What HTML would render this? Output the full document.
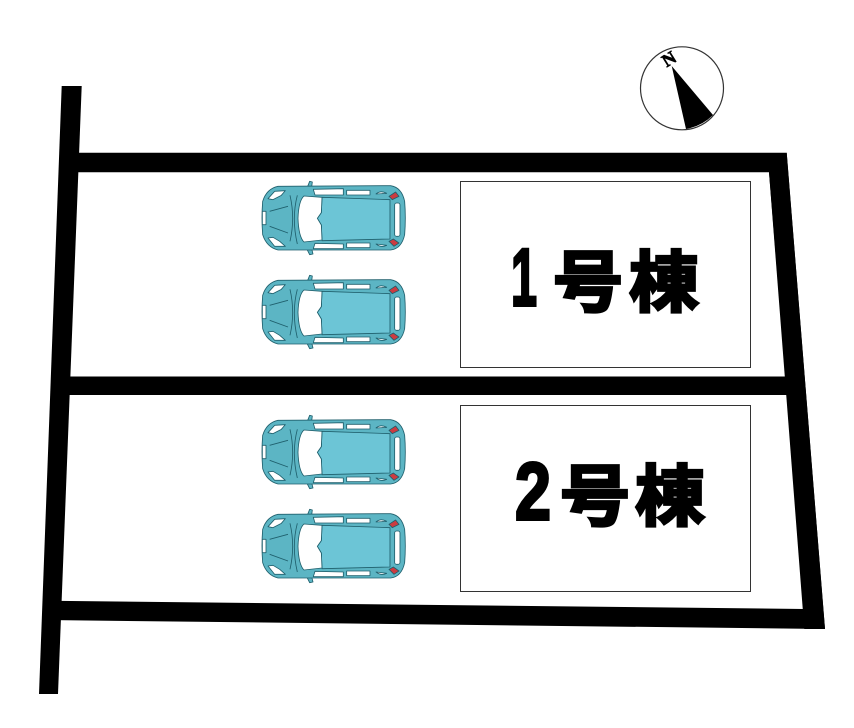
<!DOCTYPE html>
<html><head><meta charset="utf-8"><style>
html,body{margin:0;padding:0;background:#fff}
svg{display:block}
text{font-family:"Liberation Sans","Noto Sans CJK JP",sans-serif;font-weight:700}
</style></head><body>
<svg width="854" height="728" viewBox="0 0 854 728" xmlns="http://www.w3.org/2000/svg">
<defs>
<g id="car" transform="scale(0.3333)" stroke="#1f5f6c" stroke-width="2.5" stroke-linejoin="round">
<path d="M169 59L179 34L187 36L184 59Z M164 224L179 254L189 252L182 224Z" fill="#5cb5c4"/>
<path d="M84 49L422 47Q455 52 464 94Q468 144 464 194Q455 236 422 240L84 240Q50 232 38 194Q34 144 38 94Q50 56 84 49Z" fill="#5cb5c4"/>
<path d="M190 58L280 56L280 75L195 75Z M290 61L360 61L360 75L290 75Z M378 72Q392 60 410 70Z" fill="#fff"/>
<path d="M190 236L280 236L280 222L195 220Z M290 233L360 233L360 219L290 219Z M378 222Q392 234 410 226Z" fill="#fff"/>
<path d="M216 82L420 89L420 207L216 212L214 165L202 145L214 128Z" fill="#6cc5d6"/>
<path d="M162 78L216 82L214 128L202 145L214 165L216 210L162 216Q146 200 144 145Q146 92 162 78Z" fill="#fff"/>
<path d="M142 76Q124 145 142 222" fill="none"/>
<path d="M59 124L114 109M59 169L114 189M120 76Q136 145 120 214" fill="none"/>
<path d="M54 86L74 64L106 62L94 76L69 89Z M54 204L74 229L106 229L89 214L69 202Z" fill="#fff"/>
<rect x="37" y="124" width="11" height="40" fill="#fff"/>
<rect x="434" y="99" width="16" height="100" rx="6" fill="#fff"/>
<path d="M417 79L437 66L447 79L427 89Z M417 214L430 207L447 219L432 229Z" fill="#cc3b40"/>
</g>
</defs>
<g fill="#000">
<path d="M61.7 86H81.7L58 694H39Z"/>
<path d="M62 152.7H786.7L825 629L45 620L48 600.7L804.3 609L769 172.3H62Z"/>
<path d="M54 376.5H804V395H54Z"/>
<path d="M786.7 152.7L825 629H804.3L769 172Z"/>
</g>
<rect x="460.5" y="181.5" width="290" height="186" fill="#fff" stroke="#333" stroke-width="1"/>
<rect x="460.5" y="405.5" width="290" height="186" fill="#fff" stroke="#333" stroke-width="1"/>
<use href="#car" x="250" y="170"/>
<use href="#car" x="250" y="264"/>
<use href="#car" x="250" y="404"/>
<use href="#car" x="250" y="498"/>
<circle cx="682" cy="88.3" r="41.5" fill="#fff" stroke="#333" stroke-width="1.2"/>
<path d="M671.7 66L713 115Q702 126 686 129Z" fill="#000"/>
<text x="669" y="65" font-size="18" text-anchor="middle" stroke="#000" stroke-width=".7" transform="rotate(-32 669 59)" style="font-family:'Liberation Serif',serif">N</text>
<g stroke="#000" stroke-width="3">
<text x="511" y="305.5" font-size="82" textLength="26" lengthAdjust="spacingAndGlyphs">1</text>
<text transform="translate(553 306) scale(1,.95)" font-size="70">号</text>
<text transform="translate(629 306) scale(1,.95)" font-size="70">棟</text>
<text x="515" y="519.5" font-size="82" textLength="36" lengthAdjust="spacingAndGlyphs">2</text>
<text transform="translate(560 520) scale(1,.95)" font-size="70">号</text>
<text transform="translate(635 520) scale(1,.95)" font-size="70">棟</text>
</g>
</svg>
</body></html>
